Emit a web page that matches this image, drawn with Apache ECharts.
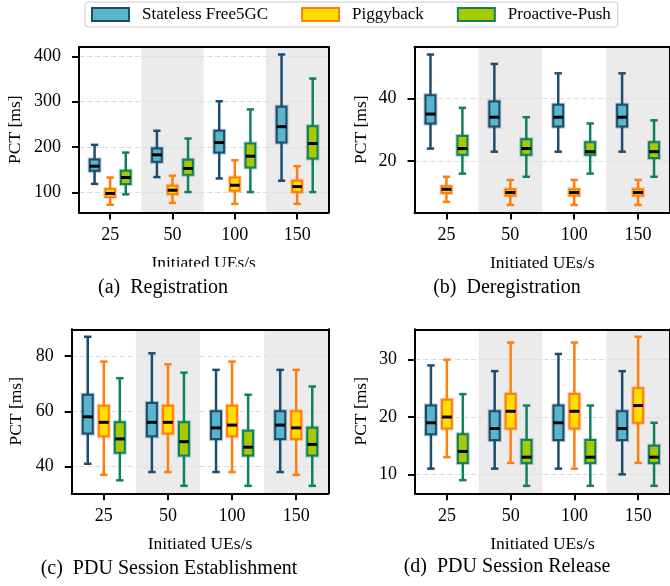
<!DOCTYPE html>
<html>
<head>
<meta charset="utf-8">
<script src="https://cdn.jsdelivr.net/npm/echarts@6/dist/echarts.min.js"></script>
<style>
  html, body { margin: 0; padding: 0; background: #fff; }
  #chart { width: 670px; height: 586px; }
</style>
</head>
<body>
<div id="chart"></div>
<script>
// x categories (initiated UEs/s)
const categories = ['25', '50', '100', '150'];
const seriesNames = ['Stateless Free5GC', 'Piggyback', 'Proactive-Push'];

// each row: [min, q1, median, q3, max] per category
const regStateless = [[119, 148, 158, 173, 205], [134, 168, 183, 197, 236], [131, 188, 210, 236, 301], [126, 210, 245, 289, 404]];
const regPiggyback = [[73, 90, 98, 108, 133], [77, 97, 105, 115, 137], [75, 104, 116, 133, 171], [75, 101, 113, 126, 158]];
const regProactive = [[96, 119, 133, 148, 188], [101, 139, 153, 172, 219], [101, 155, 180, 208, 283], [101, 175, 208, 246, 351]];

const deregStateless = [[24, 32, 35, 41, 54], [23, 31, 34, 39, 51], [23, 31, 34, 38, 48], [23, 31, 34, 38, 48]];
const deregPiggyback = [[7, 9.8, 11, 12, 15], [6, 9, 10, 11, 14], [6, 9, 10, 11, 14], [6, 9, 10, 11, 14]];
const deregProactive = [[16, 22, 24, 28, 37], [15, 22, 24, 27, 34], [16, 22, 23, 26, 32], [15, 21, 23, 26, 33]];

const estStateless = [[41, 52, 58, 66, 87], [38, 51, 56, 63, 81], [38, 50, 54, 60, 75], [38, 50, 55, 60, 75]];
const estPiggyback = [[37, 51, 56, 62, 78], [38, 52, 56, 62, 77], [38, 51, 55, 62, 78], [37, 50, 54, 60, 75]];
const estProactive = [[35, 45, 50, 56, 72], [33, 44, 49, 56, 74], [33, 44, 47, 53, 66], [33, 44, 48, 54, 69]];

const relStateless = [[11, 17, 19, 22, 29], [11, 16, 18, 21, 28], [11, 16, 19, 22, 31], [10, 16, 18, 21, 28]];
const relPiggyback = [[13, 18, 20, 23, 30], [12, 18, 21, 24, 33], [11, 18, 21, 24, 33], [12, 19, 22, 25, 34]];
const relProactive = [[9, 12, 14, 17, 24], [8, 12, 13, 16, 22], [8, 12, 13, 16, 22], [8, 12, 13, 15, 19]];

// y tick labels per panel
const regTicks = [100, 200, 300, 400];
const deregTicks = [20, 40];
const estTicks = [40, 60, 80];
const relTicks = [10, 20, 30];

const FONT = '"Liberation Serif", "Times New Roman", serif';
const fills = ['#5ab4cc', '#ffdd00', '#a8c800'];
const strokes = ['#1d4d6e', '#ff7f0e', '#10805f'];
const shifts = [-0.25, 0, 0.25];

const panels = [
  { data: [regStateless, regPiggyback, regProactive], ticks: regTicks, min: 56, max: 420.5,
    grid: { left: 79, top: 47, width: 249.3, height: 165.5 }, nameGap: 55 },
  { data: [deregStateless, deregPiggyback, deregProactive], ticks: deregTicks, min: 3.6, max: 56.4,
    grid: { left: 414.5, top: 47, width: 256, height: 165.5 }, nameGap: 44 },
  { data: [estStateless, estPiggyback, estProactive], ticks: estTicks, min: 30.3, max: 89.7,
    grid: { left: 71.7, top: 329.3, width: 256.6, height: 164 }, nameGap: 46 },
  { data: [relStateless, relPiggyback, relProactive], ticks: relTicks, min: 6.7, max: 35.3,
    grid: { left: 415, top: 329.3, width: 256, height: 164 }, nameGap: 44.5 }
];

function boxRenderer(k) {
  const fill = fills[k], stroke = strokes[k], shift = shifts[k];
  return function (params, api) {
    const band = api.size([1, 0])[0];
    const x = api.coord([api.value(0), 0])[0] + shift * band;
    const w = band * 0.155;
    const cap = w * 0.75;
    const y = (i) => api.coord([0, api.value(i)])[1];
    const lo = y(1), q1 = y(2), md = y(3), q3 = y(4), hi = y(5);
    const ls = { stroke: stroke, lineWidth: 2.5 };
    return {
      type: 'group',
      children: [
        { type: 'line', shape: { x1: x, y1: lo, x2: x, y2: q1 }, style: ls },
        { type: 'line', shape: { x1: x, y1: q3, x2: x, y2: hi }, style: ls },
        { type: 'line', shape: { x1: x - cap / 2, y1: lo, x2: x + cap / 2, y2: lo }, style: ls },
        { type: 'line', shape: { x1: x - cap / 2, y1: hi, x2: x + cap / 2, y2: hi }, style: ls },
        { type: 'rect', shape: { x: x - w / 2, y: q3, width: w, height: q1 - q3 },
          style: { fill: 'none', stroke: stroke, lineWidth: 4, opacity: 0.35 } },
        { type: 'rect', shape: { x: x - w / 2, y: q3, width: w, height: q1 - q3 },
          style: { fill: fill, stroke: stroke, lineWidth: 2 } },
        { type: 'line', shape: { x1: x - w / 2, y1: md, x2: x + w / 2, y2: md },
          style: { stroke: '#000', lineWidth: 3 } }
      ]
    };
  };
}

const spine = { show: true, onZero: false, lineStyle: { color: '#000', width: 2 } };
const grids = [], xAxes = [], yAxes = [], series = [];

panels.forEach((p, i) => {
  grids.push(p.grid);
  // shaded bands behind alternate categories
  xAxes.push({
    type: 'category', gridIndex: i, data: categories, z: 0, position: 'bottom',
    axisLine: { show: false }, axisTick: { show: false }, axisLabel: { show: false },
    splitArea: { show: true, areaStyle: { color: ['rgba(0,0,0,0)', '#ebebeb'] } }
  });
  xAxes.push({
    type: 'category', gridIndex: i, data: categories, z: 1, position: 'bottom',
    axisLine: spine,
    axisTick: { show: true, alignWithLabel: true, length: 7, lineStyle: { color: '#000', width: 2 } },
    axisLabel: { color: '#000', fontFamily: FONT, fontSize: 18, margin: 14 },
    name: 'Initiated UEs/s', nameLocation: 'middle', nameGap: 42,
    nameTextStyle: { color: '#000', fontFamily: FONT, fontSize: 17.5 }
  });
  xAxes.push({
    type: 'category', gridIndex: i, data: categories, z: 1, position: 'top',
    axisLine: spine, axisTick: { show: false }, axisLabel: { show: false }
  });
  yAxes.push({
    type: 'value', gridIndex: i, min: p.min, max: p.max, z: 1, position: 'left',
    axisLine: spine,
    axisTick: { show: true, length: 7, customValues: p.ticks, lineStyle: { color: '#000', width: 2 } },
    axisLabel: { color: '#000', fontFamily: FONT, fontSize: 18, margin: 18, customValues: p.ticks },
    splitLine: { show: true, lineStyle: { color: '#dcdcdc', width: 1, type: [5, 3] } },
    name: 'PCT [ms]', nameLocation: 'middle', nameGap: p.nameGap,
    nameTextStyle: { color: '#000', fontFamily: FONT, fontSize: 17.5 }
  });
  yAxes.push({
    type: 'value', gridIndex: i, min: p.min, max: p.max, z: 1, position: 'right',
    axisLine: spine, axisTick: { show: false }, axisLabel: { show: false }, splitLine: { show: false }
  });
  p.data.forEach((rows, k) => {
    series.push({
      type: 'custom',
      name: seriesNames[k],
      xAxisIndex: 3 * i + 1,
      yAxisIndex: 2 * i,
      z: 2,
      itemStyle: { color: fills[k], borderColor: strokes[k], borderWidth: 2 },
      renderItem: boxRenderer(k),
      encode: { x: 0, y: [1, 2, 3, 4, 5] },
      data: rows.map((r, j) => [j].concat(r))
    });
  });
});

const captions = [
  { text: '(a)  Registration', x: 163, y: 288 },
  { text: '(b)  Deregistration', x: 507, y: 288 },
  { text: '(c)  PDU Session Establishment', x: 169, y: 569 },
  { text: '(d)  PDU Session Release', x: 507, y: 567 }
];

const chart = echarts.init(document.getElementById('chart'), null, { renderer: 'canvas' });
chart.setOption({
  animation: false,
  backgroundColor: '#fff',
  legend: {
    left: 85, top: 2,
    padding: [4, 7, 4, 6],
    itemWidth: 37, itemHeight: 13, itemGap: 33,
    backgroundColor: '#fff', borderColor: '#cccccc', borderWidth: 1, borderRadius: 3,
    textStyle: { color: '#000', fontFamily: FONT, fontSize: 17, padding: [0, 0, 0, 8] },
    data: seriesNames.map((n, k) => ({
      name: n, icon: 'rect',
      itemStyle: { color: fills[k], borderColor: strokes[k], borderWidth: 2 }
    }))
  },
  grid: grids,
  xAxis: xAxes,
  yAxis: yAxes,
  series: series,
  graphic: [
    // x label of panel (a) is clipped at the bottom in the original figure
    { type: 'rect', z: 50, shape: { x: 60, y: 266.7, width: 280, height: 13 }, style: { fill: '#fff' } }
  ].concat(captions.map(c => ({
    type: 'text', z: 60, x: c.x, y: c.y,
    style: { text: c.text, fill: '#000', font: '20px ' + FONT, textAlign: 'center', textVerticalAlign: 'middle' }
  })))
});
</script>
</body>
</html>
